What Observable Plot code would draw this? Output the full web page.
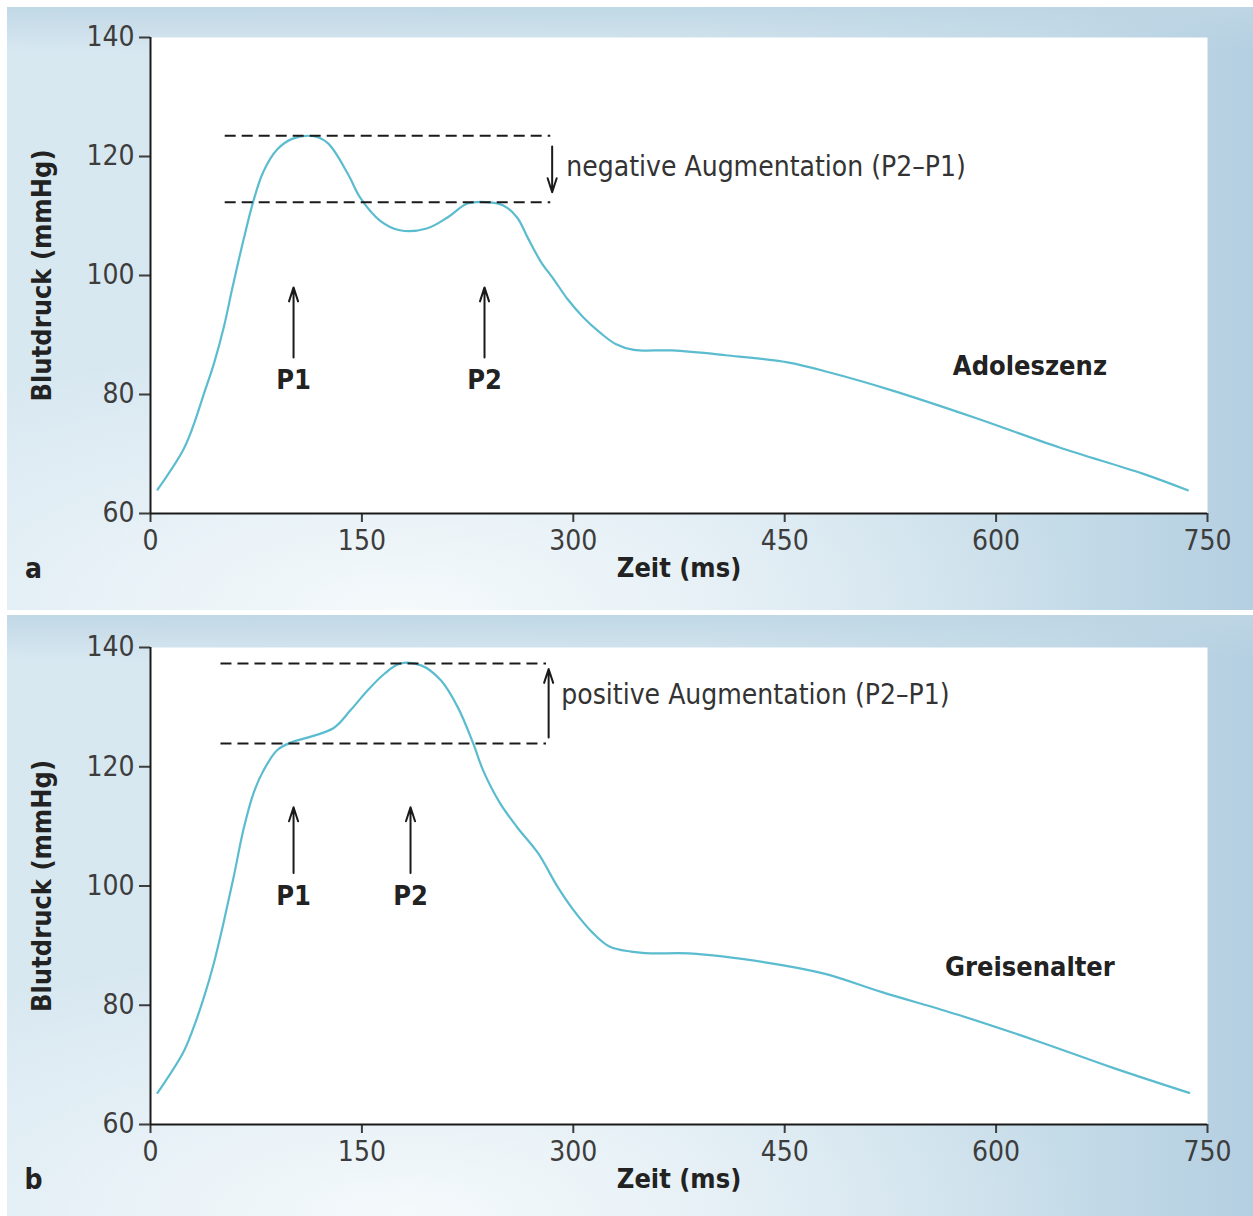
<!DOCTYPE html>
<html>
<head>
<meta charset="utf-8">
<script src="https://cdn.jsdelivr.net/npm/d3@7"></script>
<script src="https://cdn.jsdelivr.net/npm/@observablehq/plot@0.6"></script>
<style>
  html, body { margin: 0; padding: 0; background: #ffffff; }
  #wrap { position: relative; width: 1253px; height: 1216px; overflow: hidden;
          font-family: "DejaVu Sans Condensed", "Liberation Sans", sans-serif; }
  .bg { position: absolute; left: 7px; right: 0;
        background:
          radial-gradient(ellipse 55% 45% at 32% 100%, rgba(246,250,252,0.95), rgba(246,250,252,0) 100%),
          linear-gradient(to bottom, rgba(190,214,228,0.9) 0px, rgba(214,230,240,0) 45px),
          linear-gradient(to right, #d8e8f1 0%, #d5e6ef 55%, #c4dbe8 85%, #b4cfe1 100%); }
  #bgA { top: 7px; height: 603px; }
  #bgB { top: 615px; height: 601px; }
  .chart { position: absolute; left: 0; }
  #chartA { top: 0; }
  #chartB { top: 610px; }
</style>
</head>
<body>
<div id="wrap">
  <div class="bg" id="bgA"></div>
  <div class="bg" id="bgB"></div>
  <div class="chart" id="chartA"></div>
  <div class="chart" id="chartB"></div>
</div>
<script>
// ---------- Data ----------
const xTicks = [0, 150, 300, 450, 600, 750];
const yTicks = [60, 80, 100, 120, 140];

// Panel a: Adoleszenz (time in ms, pressure in mmHg)
const timeA = [5, 23, 30, 38, 45, 52, 58, 66, 73, 80, 90, 101, 116, 126, 140, 149, 163, 177, 196, 211,
               225, 241, 250, 260, 268, 277, 286, 296, 307, 319, 330, 343, 370, 408, 452, 482, 526, 585, 645, 704, 736];
const pressureA = [64, 70.6, 74.5, 80.2, 85.2, 91.3, 97.8, 106, 112.5, 117.4, 121.2, 123, 123.4, 122.2, 117.1, 113, 109.2, 107.6, 107.9, 109.8,
                   112.1, 112.3, 111.8, 109.8, 106.2, 102.3, 99.4, 96, 93, 90.4, 88.5, 87.5, 87.4, 86.6, 85.4, 83.7, 80.7, 76.1, 71.1, 66.7, 63.9];

// Panel b: Greisenalter
const timeB = [5, 23, 30, 38, 45, 52, 59, 66, 73, 80, 90, 100, 110, 130, 142, 154, 166, 177, 192, 206, 218,
               229, 236, 248, 260, 275, 289, 300, 314, 326, 341, 355, 382, 436, 478, 519, 573, 628, 683, 737];
const pressureB = [65.3, 72, 75.9, 81.4, 87.1, 94, 101.5, 109.5, 115.5, 119.3, 122.8, 124.1, 124.8, 126.5, 129.5, 132.8, 135.6, 137.3, 137, 134.5, 130,
                   123.9, 119.4, 113.9, 109.9, 105.5, 99.8, 96, 92.1, 89.8, 89, 88.7, 88.7, 87.2, 85.3, 82.2, 78.4, 74.1, 69.5, 65.3];

// Annotations
const dashLevelsA = [123.5, 112.3];
const dashLevelsB = [137.3, 123.9];
const dashSpanA = [53, 284];
const dashSpanB = [50, 281];
const augArrowA = {x: 285, from: 121.7, to: 114};
const augArrowB = {x: 282.5, from: 124.9, to: 136.4};
const peaksA = [{label: "P1", x: 101.5, y1: 86.2, y2: 98, ly: 82.4},
                {label: "P2", x: 237, y1: 86.2, y2: 98, ly: 82.4}];
const peaksB = [{label: "P1", x: 101.5, y1: 102.2, y2: 113.2, ly: 98.2},
                {label: "P2", x: 184.5, y1: 102.2, y2: 113.2, ly: 98.2}];
const augLabelA = {text: "negative Augmentation (P2–P1)", x: 295, y: 118.2};
const augLabelB = {text: "positive Augmentation (P2–P1)", x: 291.5, y: 132.0};
const ageLabelA = {text: "Adoleszenz", x: 624, y: 84.7};
const ageLabelB = {text: "Greisenalter", x: 624, y: 86.3};
const yLabel = "Blutdruck (mmHg)";
const xLabel = "Zeit (ms)";

const FONT = '"DejaVu Sans Condensed", "Liberation Sans", sans-serif';
const INK = "#222";

function panel({time, pressure, dashLevels, dashSpan, augArrow, peaks, augLabel, ageLabel, letter, height, marginTop, marginBottom}) {
  const data = time.map((t, i) => ({t, p: pressure[i]}));
  const dashes = dashLevels.map(y => ({y, x1: dashSpan[0], x2: dashSpan[1]}));
  return Plot.plot({
    width: 1253,
    height,
    marginLeft: 150,
    marginRight: 46,
    marginTop,
    marginBottom,
    style: {background: "transparent", fontFamily: FONT, overflow: "visible", color: INK},
    x: {domain: [0, 750]},
    y: {domain: [60, 140]},
    marks: [
      Plot.frame({fill: "white", stroke: "none"}),
      Plot.line(data, {x: "t", y: "p", curve: "catmull-rom", stroke: "#5bbccf", strokeWidth: 2.2}),
      Plot.ruleY(dashes, {y: "y", x1: "x1", x2: "x2", stroke: "#1a1a1a", strokeWidth: 2, strokeDasharray: "11,6"}),
      Plot.arrow([augArrow], {x: "x", y1: "from", y2: "to", stroke: "#1a1a1a", strokeWidth: 2, headLength: 11, headAngle: 36}),
      Plot.arrow(peaks, {x: "x", y1: "y1", y2: "y2", stroke: "#1a1a1a", strokeWidth: 2, headLength: 11, headAngle: 36}),
      Plot.text(peaks, {x: "x", y: "ly", text: "label", fontSize: 27, fontWeight: "bold", fill: INK}),
      Plot.text([augLabel], {x: "x", y: "y", text: "text", textAnchor: "start", fontSize: 28, fill: "#333"}),
      Plot.text([ageLabel], {x: "x", y: "y", text: "text", fontSize: 27, fontWeight: "bold", fill: INK}),
      Plot.axisY({ticks: yTicks, tickSize: 11, tickPadding: 5, fontSize: 28, color: "#3d3d3d", strokeWidth: 2, label: null}),
      Plot.axisX({ticks: xTicks, tickSize: 9, tickPadding: 8, fontSize: 28, color: "#3d3d3d", strokeWidth: 2, label: null}),
      Plot.ruleX([0], {stroke: "#1a1a1a", strokeWidth: 2}),
      Plot.ruleY([60], {stroke: "#1a1a1a", strokeWidth: 2}),
      Plot.text([yLabel], {text: d => d, frameAnchor: "left", textAnchor: "middle", dx: -108, rotate: -90, fontSize: 27, fontWeight: "bold", fill: INK}),
      Plot.text([xLabel], {text: d => d, frameAnchor: "bottom", dy: 63, fontSize: 27, fontWeight: "bold", fill: INK}),
      Plot.text([letter], {text: d => d, frameAnchor: "bottom-left", textAnchor: "middle", dx: -117, dy: 64, fontSize: 28, fontWeight: "bold", fill: INK})
    ]
  });
}

document.getElementById("chartA").append(panel({
  time: timeA, pressure: pressureA, dashLevels: dashLevelsA, dashSpan: dashSpanA,
  augArrow: augArrowA, peaks: peaksA, augLabel: augLabelA, ageLabel: ageLabelA,
  letter: "a", height: 610, marginTop: 37, marginBottom: 97
}));
document.getElementById("chartB").append(panel({
  time: timeB, pressure: pressureB, dashLevels: dashLevelsB, dashSpan: dashSpanB,
  augArrow: augArrowB, peaks: peaksB, augLabel: augLabelB, ageLabel: ageLabelB,
  letter: "b", height: 606, marginTop: 37, marginBottom: 92
}));
</script>
</body>
</html>
